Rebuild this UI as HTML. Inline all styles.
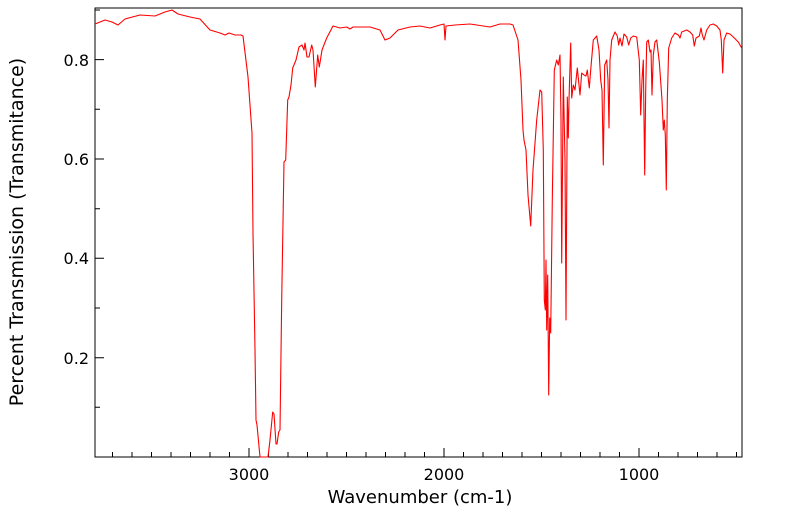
<!DOCTYPE html>
<html><head><meta charset="utf-8"><style>
html,body{margin:0;padding:0;background:#fff;width:799px;height:516px;overflow:hidden}
text{font-family:"DejaVu Sans","Liberation Sans",sans-serif;fill:#000}
</style></head><body>
<svg width="799" height="516" viewBox="0 0 799 516" xmlns="http://www.w3.org/2000/svg">
<rect x="95" y="8" width="647" height="449" fill="none" stroke="#000" stroke-width="1"/>
<path stroke="#000" stroke-width="1" fill="none" d="
M112.5,457v-5 M132,457v-5 M151.5,457v-5 M171,457v-5 M190.5,457v-5 M210,457v-5 M229.5,457v-5 M249,457v-9
M268.5,457v-5 M288,457v-5 M307.5,457v-5 M327,457v-5 M346.5,457v-5 M366,457v-5 M385.5,457v-5 M405,457v-5 M424.5,457v-5 M444,457v-9
M463.5,457v-5 M483,457v-5 M502.5,457v-5 M522,457v-5 M541.5,457v-5 M561,457v-5 M580.5,457v-5 M600,457v-5 M619.5,457v-5 M639,457v-9
M658.5,457v-5 M678,457v-5 M697.5,457v-5 M717,457v-5 M736.5,457v-5
M95,407.3h5 M95,357.7h9 M95,308h5 M95,258.3h9 M95,208.7h5 M95,159h9 M95,109.3h5 M95,59.6h9 M95,10h5"/>
<g font-size="16" text-anchor="middle">
<text x="249" y="480">3000</text><text x="444" y="480">2000</text><text x="639" y="480">1000</text>
<text x="420" y="503" font-size="18">Wavenumber (cm-1)</text>
</g>
<g font-size="16" text-anchor="end">
<text x="89" y="66">0.8</text><text x="89" y="165">0.6</text><text x="89" y="264">0.4</text><text x="89" y="364">0.2</text>
</g>
<text transform="translate(23,232) rotate(-90)" font-size="19" text-anchor="middle">Percent Transmission (Transmitance)</text>
<polyline fill="none" stroke="#ff0000" stroke-width="1.1" stroke-linejoin="round" points="
95,24 105,20 112,22 118,25 125,19 140,15 155,16 165,12 172,10 178,14 190,17 200,19 210,30 220,33 225,35 229,33 235,35 241,35 243,36
248,77 252,133 253,233 255,350 256,420 257,425 260,457 268,457 270,440 272.7,412 274,414 276,444 277,444 278.7,432 280,430 281.7,300 284,162 285.7,160 287.7,100 289,97 291,85 292.7,68 296,60 299,47 302,45 304,50 305,43 307,57 309,57 311.7,45 313,50 315.3,87 317.7,55 319.3,67 322,50 326.7,38 333,26 340,28 346.7,27 350,29 353,27 360,27
370,27 380,30 385,40 390,38 398,30 410,27 420,26 430,28 440,25 444,24 445,40 446,26 455,25 470,24 490,27 500,24 510,24 513,25
518,40 521,80 523,130 524,140 526,150 528,195 530.7,226 533,170 536.7,120 540,90 541.7,92 543.3,150 544.3,300 545.3,310 546,260 546.7,330 547.7,275 548.7,395 549.7,318 550.7,333 552.3,200 554.3,70 556.7,60 558.3,65 560,55 561,120 561.7,263 563.3,77 565,160 566,320 567.3,97 568.3,138 569,100 570.7,43 571.7,98 573.3,85 575,90 577.3,68 580,95 581.7,73 584,75 586,76 587.3,70 589.3,88 590.7,70 593.3,40 596.7,36 599,50 600.7,80 602,90 603.3,165 604.7,65 606.7,60 608,80 609,128 610,60 611.7,40 615,32 617.3,36 618.7,45 620,38 622,46 624,34 626.7,37 628.7,45 630.7,38 633.3,36 636.7,37 639.3,60 640.7,115 642,80 643.3,60 644.7,175 645.7,90 646.7,42 648.3,40 650,52 651,50 652,95 653.3,55 655,42 656.7,40 659.3,62 662,100 663.3,130 664.3,120 665.3,135 666.3,190 667.3,100 668.7,48 671.7,38 675,33 678.3,35 680,38 681.7,32 686.7,30 690,32 692.7,35 694.3,46 696,38 699.3,36 701,28 702.3,35 704,40 706.7,30 710,25 713.3,24 716.7,26 720,30 721.3,40 722.7,73 724,40 726.7,33 730,34 733.3,37 738.3,42 741.7,48"/>
</svg>
</body></html>
